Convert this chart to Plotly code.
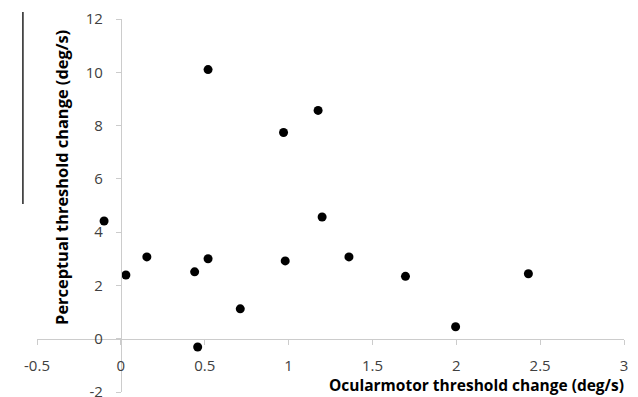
import plotly.graph_objects as go

ocular = [-0.10, 0.03, 0.155, 0.44, 0.52, 0.458, 0.712, 0.98, 0.52, 0.97, 1.176, 1.20, 1.36, 1.697, 1.996, 2.43]
percept = [4.42, 2.39, 3.07, 2.51, 3.00, -0.31, 1.12, 2.92, 10.10, 7.74, 8.57, 4.57, 3.07, 2.34, 0.45, 2.44]
x_ticks = [-0.5, 0, 0.5, 1, 1.5, 2, 2.5, 3]
x_ticklabels = ["-0.5", "0", "0.5", "1", "1.5", "2", "2.5", "3"]
y_ticks = [-2, 0, 2, 4, 6, 8, 10, 12]
y_ticklabels = ["-2", "0", "2", "4", "6", "8", "10", "12"]

XR = [-0.5, 3]
YR = [-2, 12]
axis_col = "#cccccc"
tick_font = dict(family="Open Sans, Liberation Sans, sans-serif", size=15, color="#404040")

fig = go.Figure()
fig.add_trace(go.Scatter(x=ocular, y=percept, mode="markers",
                         marker=dict(color="black", size=9), showlegend=False, cliponaxis=False))

fig.update_layout(
    width=638, height=397,
    margin=dict(l=37, r=14, t=19, b=5, autoexpand=False),
    paper_bgcolor="white", plot_bgcolor="white",
    xaxis=dict(range=XR, tickvals=x_ticks, ticktext=x_ticklabels, showgrid=False, zeroline=False,
               showline=True, linecolor=axis_col, linewidth=1, ticks="outside", ticklen=5,
               tickcolor=axis_col, anchor="free", position=(0 - YR[0]) / (YR[1] - YR[0]),
               tickfont=tick_font, ticklabelstandoff=8, automargin=False,
               ticklabeloverflow="allow"),
    yaxis=dict(range=YR, tickvals=y_ticks, ticktext=y_ticklabels, showgrid=False, zeroline=False,
               showline=True, linecolor=axis_col, linewidth=1, ticks="outside", ticklen=5,
               tickcolor=axis_col, anchor="free", position=(0 - XR[0]) / (XR[1] - XR[0]),
               tickfont=tick_font, ticklabelstandoff=10, automargin=False,
               ticklabeloverflow="allow"),
)

fig.add_annotation(text="<b>Ocularmotor threshold change (deg/s)</b>", xref="paper", yref="paper",
                   x=1.003, y=0.019, xanchor="right", yanchor="middle", showarrow=False,
                   font=dict(family="Open Sans, Liberation Sans, sans-serif", size=15.5, color="black"))
fig.add_annotation(text="<b>Perceptual threshold change (deg/s)</b>", xref="paper", yref="paper",
                   x=0.0426, y=0.574, xanchor="center", yanchor="middle", textangle=-90,
                   showarrow=False,
                   font=dict(family="Open Sans, Liberation Sans, sans-serif", size=16.4, color="black"))
fig.add_shape(type="line", xref="paper", yref="paper", x0=-0.024, x1=-0.024, y0=1.019, y1=0.504,
              line=dict(color="#222222", width=1.5))

fig.write_html("out.html", config={"displayModeBar": False},
               post_script="document.body.style.margin='0';document.body.style.overflow='hidden';")
